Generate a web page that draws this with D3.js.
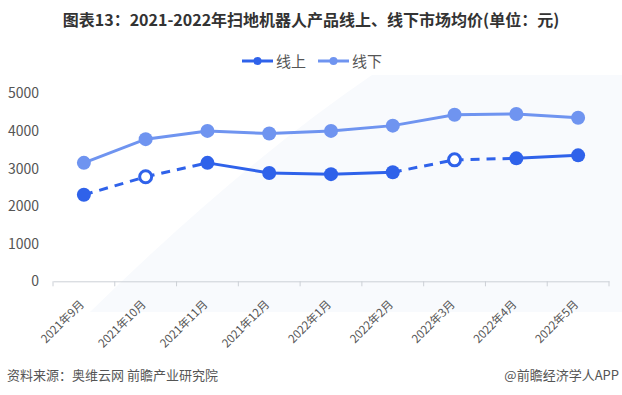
<!DOCTYPE html>
<html lang="zh">
<head>
<meta charset="UTF-8">
<title>扫地机器人产品线上、线下市场均价</title>
<script src="https://cdn.jsdelivr.net/npm/d3@7"></script>
<style>
  body { margin: 0; background: #fff; }
  svg { display: block; font-family: "Noto Sans CJK SC", "Microsoft YaHei", sans-serif; }
</style>
</head>
<body>
<div id="chart"></div>
<script>
  // data
  const months = ["2021年9月", "2021年10月", "2021年11月", "2021年12月", "2022年1月",
                  "2022年2月", "2022年3月", "2022年4月", "2022年5月"];
  const online  = [2300, 2780, 3150, 2880, 2850, 2900, 3230, 3270, 3350];
  const offline = [3150, 3780, 4000, 3930, 4000, 4140, 4430, 4450, 4350];
  // months where the online point is drawn hollow, segments touching them are dashed
  const hollow = [1, 6];
  const yTicks = [0, 1000, 2000, 3000, 4000, 5000];

  const W = 622, H = 395;
  const darkBlue = "#2f62ea", lightBlue = "#6f94f0";

  const svg = d3.select("#chart").append("svg")
      .attr("width", W).attr("height", H);

  // faint background tint
  svg.append("path")
      .attr("d", "M90,312 Q240,165 372,75 L622,75 L622,312 Z")
      .attr("fill", "#f8fafd");

  const x = d3.scaleBand().domain(months).range([53, 609]);
  const y = d3.scaleLinear().domain([0, 5000]).range([281.3, 93.3]);
  const cx = i => x(months[i]) + x.bandwidth() / 2;

  // title
  svg.append("text")
      .attr("x", 311).attr("y", 26)
      .attr("text-anchor", "middle")
      .attr("font-size", 16).attr("font-weight", "bold")
      .attr("fill", "#333")
      .text("图表13：2021-2022年扫地机器人产品线上、线下市场均价(单位：元)");

  // legend
  const legend = [["线上", darkBlue, 242], ["线下", lightBlue, 318]];
  const lg = svg.append("g").selectAll("g").data(legend).join("g")
      .attr("transform", d => `translate(${d[2]},61)`);
  lg.append("line").attr("x1", 0).attr("x2", 31)
      .attr("stroke", d => d[1]).attr("stroke-width", 3);
  lg.append("circle").attr("cx", 15.5).attr("r", 4).attr("fill", d => d[1]);
  lg.append("text").attr("x", 34).attr("y", 5.5)
      .attr("font-size", 15).attr("fill", "#555")
      .text(d => d[0]);

  // y axis labels
  svg.append("g").selectAll("text").data(yTicks).join("text")
      .attr("x", 39).attr("y", d => y(d) + 5)
      .attr("text-anchor", "end")
      .attr("font-size", 14).attr("fill", "#555")
      .text(d => d);

  // x axis
  const xAxis = svg.append("g")
      .attr("transform", "translate(0,281.3)")
      .call(d3.axisBottom(x).tickSize(0).tickFormat(""));
  xAxis.select(".domain").attr("stroke", "#ccd0d6");
  const bounds = months.map(m => x(m)).concat([x.range()[1]]);
  xAxis.selectAll("line.tk").data(bounds).join("line")
      .attr("class", "tk")
      .attr("x1", d => d).attr("x2", d => d)
      .attr("y1", 0).attr("y2", 5)
      .attr("stroke", "#ccd0d6");
  svg.append("g").selectAll("text").data(months).join("text")
      .attr("transform", (d, i) => `translate(${cx(i) + 1},${305}) rotate(-45)`)
      .attr("text-anchor", "end")
      .attr("font-size", 11.5).attr("fill", "#555")
      .text(d => d);

  const line = d3.line().x(d => cx(d[0])).y(d => y(d[1]));

  // offline series
  svg.append("path")
      .datum(offline.map((v, i) => [i, v]))
      .attr("d", line).attr("fill", "none")
      .attr("stroke", lightBlue).attr("stroke-width", 3);
  svg.append("g").selectAll("circle").data(offline).join("circle")
      .attr("cx", (d, i) => cx(i)).attr("cy", d => y(d))
      .attr("r", 7).attr("fill", lightBlue);

  // online series, segment by segment
  const segs = d3.range(online.length - 1).map(i => ({
      pts: [[i, online[i]], [i + 1, online[i + 1]]],
      dashed: hollow.includes(i) || hollow.includes(i + 1)
  }));
  svg.append("g").selectAll("path").data(segs).join("path")
      .attr("d", d => line(d.pts)).attr("fill", "none")
      .attr("stroke", darkBlue).attr("stroke-width", 3)
      .attr("stroke-dasharray", d => d.dashed ? "9,7" : null);
  svg.append("g").selectAll("circle").data(online).join("circle")
      .attr("cx", (d, i) => cx(i)).attr("cy", d => y(d))
      .attr("r", (d, i) => hollow.includes(i) ? 6 : 7)
      .attr("fill", (d, i) => hollow.includes(i) ? "#fff" : darkBlue)
      .attr("stroke", (d, i) => hollow.includes(i) ? darkBlue : "none")
      .attr("stroke-width", 3);

  // footer
  svg.append("text")
      .attr("x", 7).attr("y", 380)
      .attr("font-size", 13).attr("fill", "#555")
      .text("资料来源：奥维云网 前瞻产业研究院");
  svg.append("text")
      .attr("x", 619).attr("y", 380)
      .attr("text-anchor", "end")
      .attr("font-size", 13).attr("fill", "#555")
      .text("@前瞻经济学人APP");
</script>
</body>
</html>
